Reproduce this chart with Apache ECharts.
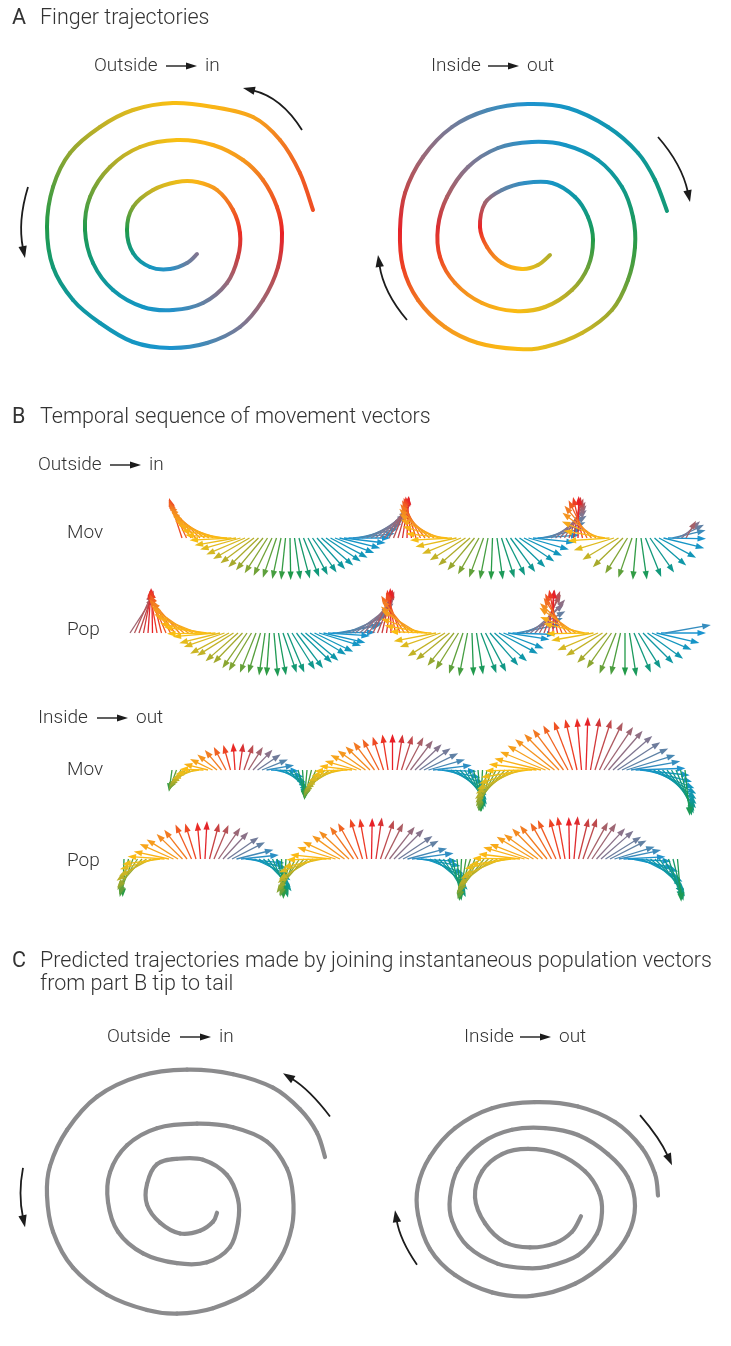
<!DOCTYPE html>
<html>
<head>
<meta charset="utf-8">
<script src="https://cdn.jsdelivr.net/npm/echarts/dist/echarts.min.js"></script>
<style>
  html, body { margin: 0; padding: 0; background: #ffffff; }
  #chart { width: 731px; height: 1346px; }
</style>
</head>
<body>
<div id="chart"></div>
<script>
// ---------------- data ----------------
// Finger paths (x, y in px-like units, y up, centred on each spiral)
const traceOutsideIn = [
  [143,18],[130,55],[110,88],[83,111],[43,121],[3,125],[-37,118],[-70,101],[-100,75],[-117,41],
  [-123,1],[-117,-39],[-97,-72],[-70,-95],[-37,-114],[0,-120],[37,-115],[70,-99],[93,-72],[108,-39],
  [112,-5],[107,21],[93,48],[73,68],[43,83],[7,88],[-30,81],[-60,61],[-80,31],[-85,-2],
  [-77,-35],[-57,-62],[-27,-79],[3,-82],[33,-75],[57,-55],[68,-29],[70,-5],[63,18],[47,38],
  [27,46],[7,46],[-17,38],[-37,21],[-43,-2],[-37,-25],[-20,-39],[0,-41],[17,-35],[27,-26]
];
const traceInsideOut = [
  [20,-27],[8,-37],[-8,-41],[-28,-35],[-43,-19],[-50,1],[-45,25],[-28,38],[-5,45],[22,45],
  [45,31],[58,11],[63,-12],[58,-39],[42,-62],[15,-79],[-15,-83],[-48,-75],[-75,-55],[-90,-29],
  [-92,1],[-83,31],[-62,61],[-32,80],[2,86],[35,83],[68,68],[92,41],[103,11],[105,-19],
  [98,-52],[82,-82],[52,-105],[15,-119],[-12,-121],[-52,-115],[-85,-99],[-112,-72],[-127,-39],[-130,-2],
  [-125,35],[-107,71],[-78,101],[-42,118],[-2,124],[38,120],[78,101],[108,75],[125,48],[137,17]
];
// Paths rebuilt from population vectors
const predictedOutsideIn = [
  [150,40],[142,67],[125,93],[98,117],[58,132],[12,137],[-35,130],[-78,107],[-108,70],[-125,30],
  [-128,-3],[-122,-43],[-102,-83],[-68,-113],[-28,-130],[2,-134],[38,-128],[78,-107],[105,-73],[117,-37],
  [118,-3],[112,27],[92,57],[58,73],[22,77],[-18,72],[-48,53],[-65,23],[-67,-10],[-57,-43],
  [-32,-67],[2,-78],[32,-77],[55,-60],[63,-33],[63,-7],[52,20],[28,37],[2,38],[-18,32],
  [-28,10],[-28,-13],[-15,-33],[5,-45],[25,-42],[38,-32],[42,-22]
];
const predictedInsideOut = [
  [46,-20],[37,-38],[20,-51],[-5,-56],[-30,-50],[-50,-28],[-60,2],[-53,32],[-33,52],[-7,58],
  [23,52],[50,32],[64,8],[67,-15],[62,-40],[43,-65],[13,-78],[-7,-80],[-37,-75],[-67,-55],
  [-83,-25],[-85,2],[-77,35],[-53,65],[-23,80],[10,82],[43,74],[73,52],[93,25],[100,-8],
  [93,-41],[73,-71],[40,-98],[-3,-112],[-43,-108],[-80,-88],[-105,-58],[-117,-18],[-117,15],[-105,49],
  [-80,82],[-43,105],[0,112],[43,107],[80,89],[107,59],[120,29],[123,4]
];
// Direction-of-rotation cues: [start, middle, end] in each spiral's units
const turnCuesOutsideIn = [ [[132,98],[107,125],[73,140]], [[-142,41],[-148,6],[-145,-30]] ];
const turnCuesInsideOut = [ [[128,91],[148,61],[160,26]], [[-123,-92],[-142,-62],[-152,-27]] ];
const turnCuesPredOutIn = [ [[155,85],[133,112],[108,133]], [[-152,28],[-154,-3],[-150,-38]] ];
const turnCuesPredInOut = [ [[105,97],[123,69],[137,39]], [[-118,-76],[-132,-46],[-140,-13]] ];

// Movement / population vectors, one per time sample: direction (deg, ccw from +x) and length
const outInMovAngle = [
  108,115,122,128,135,142,149,156,162,169,176,183,190,196,203,210,217,224,230,237,
  244,251,258,264,271,278,285,292,298,305,312,319,326,332,339,346,353,360,366,373,
  380,387,394,400,407,414,421,428,434,441,448,
  458,467,476,486,496,505,514,524,534,543,552,562,572,581,590,600,610,619,628,638,
  648,657,666,676,686,695,704,714,724,733,742,752,762,771,780,790,800,809,
  823,836,850,863,877,890,904,917,931,944,958,971,985,998,1012,1025,1039,1052,1066,1079,
  1093,1106,1122,1140
];
const outInMovLength = [
  42,42,42,42,42,42,42,42,42,42,42,42,42,42,42,42,42,42,42,42,
  42,42,42,42,42,42,42,42,42,42,42,42,42,42,42,42,42,42,42,42,
  42,42,42,42,42,42,42,42,42,42,42,
  42,42,42,42,42,42,42,42,42,42,42,42,42,42,42,42,42,42,42,42,
  42,42,42,42,42,42,42,42,42,42,42,42,42,42,42,42,42,42,
  42,42,42,42,42,42,42,42,42,42,42,42,42,42,42,42,42,42,42,38,
  34,30,25,20
];
const outInPopAngle = [
  57,66,71,79,86,91,100,104,113,118,127,131,140,145,154,158,167,172,181,185,
  194,199,208,212,221,226,235,239,248,253,262,266,275,280,289,293,302,307,316,320,
  329,334,343,347,356,361,370,374,383,388,397,401,410,415,424,428,437,442,451,
  461,469,482,489,501,508,521,530,538,551,559,572,579,591,598,611,619,632,639,651,
  658,671,679,692,699,711,718,731,740,749,761,768,781,789,802,809,
  821,833,843,856,865,878,887,901,910,923,932,945,955,968,977,990,999,1013,1022,1035,
  1044,1057,1067,1080,1090
];
const outInPopLength = [
  43,44,45,44,45,44,43,44,42,43,43,42,43,44,43,42,43,43,44,43,
  42,43,44,43,43,42,43,44,43,42,43,43,44,43,42,43,43,44,43,43,
  42,43,44,43,42,43,44,43,43,44,44,45,44,45,44,45,44,44,45,44,
  43,44,43,42,43,44,43,42,43,43,44,43,42,43,43,44,43,42,43,44,
  43,43,44,43,42,43,44,44,45,44,45,44,45,44,43,44,43,42,43,44,
  43,42,43,43,44,43,42,43,44,43,43,44,43,42,43,44,43,44,45,46
];
const inOutMovAngle = [
  262,250,238,226,214,202,190,178,166,154,142,130,118,106,94,82,70,58,46,34,
  22,10,-2,-14,-26,-38,-50,-62,-74,-86,
  -95,-104,-114,-123,-132,-141,-150,-160,-169,-178,-187,-196,-206,-215,-224,-233,-242,-252,-261,-270,
  -279,-288,-298,-307,-316,-325,-334,-344,-353,-362,-371,-380,-390,-399,-408,-417,-426,-436,-445,
  -453,-461,-468,-476,-484,-492,-500,-508,-515,-523,-531,-539,-547,-554,-562,-570,-578,-586,-593,-601,
  -609,-617,-625,-632,-640,-648,-656,-664,-671,-679,-687,-695,-703,-710,-718,-726,-734,-742,-749,-757,
  -765,-773,-781,-788,-796,-804
];
const inOutMovLength = [
  22,22,23,23,23,24,24,24,25,25,25,26,26,26,27,27,27,27,28,28,
  28,28,28,29,29,29,29,29,29,29,
  30,30,30,31,31,31,32,32,32,33,33,33,34,34,34,35,35,35,36,36,
  36,36,37,37,37,38,38,38,39,39,39,40,40,40,40,41,41,41,42,
  42,42,43,43,44,44,45,45,46,46,47,47,48,48,49,49,50,50,51,51,
  52,52,52,53,53,53,53,52,52,52,51,51,51,50,50,50,49,49,49,48,
  48,48,47,47,47,46
];
const inOutPopAngle = [
  268,257,249,237,229,216,208,196,188,176,168,156,148,136,128,115,107,95,87,75,
  67,55,47,35,27,14,6,-6,-14,-26,-34,-46,-54,-66,-74,-87,
  -94,-105,-113,-124,-131,-142,-149,-161,-168,-179,-186,-197,-205,-216,-223,-234,-241,-253,-260,-271,
  -278,-289,-297,-308,-315,-326,-333,-345,-352,-363,-370,-381,-389,-400,-407,-418,-425,-437,-444,
  -453,-459,-468,-473,-483,-488,-497,-503,-512,-517,-527,-532,-541,-547,-556,-561,-571,-576,-585,-591,
  -600,-605,-615,-620,-629,-635,-644,-649,-659,-664,-673,-679,-688,-693,-703,-708,-717,-723,-732,-737,
  -747,-752,-761,-767,-776,-781,-791,-796,-805
];
const inOutPopLength = [
  38,39,38,37,38,37,36,37,38,37,36,37,37,36,37,38,37,37,38,37,
  37,38,37,38,37,38,38,39,38,39,38,39,40,39,40,39,
  40,39,40,41,40,39,40,41,40,40,41,40,41,40,41,40,41,42,41,41,
  42,41,40,41,42,41,40,41,42,41,40,41,42,41,42,41,42,41,42,
  42,41,42,43,42,41,42,43,42,42,43,42,43,42,43,42,43,42,43,43,
  42,43,42,43,42,43,42,43,42,43,42,43,42,41,42,43,42,43,42,43,
  42,43,42,43,42,43,42,43,43
];

// ---------------- styling ----------------
const FONT = 'Roboto, "Liberation Sans", sans-serif';
const TEXT_COLOR = '#333333';
const PREDICTED_GREY = '#8b8b8d';
// colour wheel keyed by movement direction (degrees)
const DIR_STOPS = [
  [0,'#1a94d0'],[25,'#5e82a6'],[45,'#87738c'],[62,'#a95f66'],[78,'#cf3a3a'],[90,'#e91e26'],
  [112,'#ef5423'],[135,'#f38a20'],[158,'#f8a91a'],[180,'#fcbf12'],[203,'#d6b822'],[225,'#a5a92c'],
  [248,'#66a13a'],[270,'#219a48'],[292,'#12997a'],[315,'#0e97a3'],[338,'#1496c0'],[360,'#1a94d0']
];
function hexRgb(h) { return [parseInt(h.slice(1,3),16), parseInt(h.slice(3,5),16), parseInt(h.slice(5,7),16)]; }
function dirColor(deg) {
  const a = ((deg % 360) + 360) % 360;
  for (let k = 0; k < DIR_STOPS.length - 1; k++) {
    const [a0, c0] = DIR_STOPS[k], [a1, c1] = DIR_STOPS[k + 1];
    if (a >= a0 && a <= a1) {
      const t = (a - a0) / (a1 - a0), r0 = hexRgb(c0), r1 = hexRgb(c1);
      const c = r0.map((v, j) => Math.round(v + (r1[j] - v) * t));
      return 'rgb(' + c.join(',') + ')';
    }
  }
  return DIR_STOPS[0][1];
}

// ---------------- layout ----------------
const SPIRAL_R = 170;
const spiralCentres = {
  outIn: [170, 228], inOut: [530, 228], predOutIn: [175, 1210], predInOut: [535, 1222]
};
const SAMPLE_STEP = 4.5; // px per time sample
const rowLayout = [
  { angle: outInMovAngle, length: outInMovLength, x0: 182, base: 538 },
  { angle: outInPopAngle, length: outInPopLength, x0: 130, base: 633 },
  { angle: inOutMovAngle, length: inOutMovLength, x0: 172, base: 770 },
  { angle: inOutPopAngle, length: inOutPopLength, x0: 124, base: 859 }
];

const grids = [], xAxes = [], yAxes = [], series = [];
function addGrid(box, xr, yr) {
  grids.push({ left: box[0], top: box[1], width: box[2], height: box[3], show: false });
  const gi = grids.length - 1;
  xAxes.push({ type: 'value', gridIndex: gi, min: xr[0], max: xr[1], show: false });
  yAxes.push({ type: 'value', gridIndex: gi, min: yr[0], max: yr[1], show: false });
  return gi;
}
function spiralGrid(c) {
  return addGrid([c[0] - SPIRAL_R, c[1] - SPIRAL_R, 2 * SPIRAL_R, 2 * SPIRAL_R],
                 [-SPIRAL_R, SPIRAL_R], [-SPIRAL_R, SPIRAL_R]);
}

// path drawn as cubic pieces through the samples; colour either fixed or by heading
function renderTrace(points, width, fixedColor) {
  return function (params, api) {
    const n = points.length, i = params.dataIndex;
    if (i >= n - 1) return null;
    const P = k => api.coord(points[Math.max(0, Math.min(n - 1, k))]);
    const p0 = P(i - 1), p1 = P(i), p2 = P(i + 1), p3 = P(i + 2);
    const c1 = [p1[0] + (p2[0] - p0[0]) / 6, p1[1] + (p2[1] - p0[1]) / 6];
    const c2 = [p2[0] - (p3[0] - p1[0]) / 6, p2[1] - (p3[1] - p1[1]) / 6];
    let stroke = fixedColor;
    if (!fixedColor) {
      const a1 = Math.atan2(-(p2[1] - p0[1]), p2[0] - p0[0]) * 180 / Math.PI;
      const a2 = Math.atan2(-(p3[1] - p1[1]), p3[0] - p1[0]) * 180 / Math.PI;
      stroke = new echarts.graphic.LinearGradient(p1[0], p1[1], p2[0], p2[1],
        [{ offset: 0, color: dirColor(a1) }, { offset: 1, color: dirColor(a2) }], true);
    }
    return {
      type: 'bezierCurve',
      shape: { x1: p1[0], y1: p1[1], x2: p2[0], y2: p2[1], cpx1: c1[0], cpy1: c1[1], cpx2: c2[0], cpy2: c2[1] },
      style: { fill: 'none', lineWidth: width, lineCap: 'round', stroke }
    };
  };
}

// curved cue arrows showing the sense of rotation
function renderTurnCue(set) {
  return function (params, api) {
    const a = set[params.dataIndex];
    const p0 = api.coord(a[0]), m = api.coord(a[1]), p2 = api.coord(a[2]);
    const c = [2 * m[0] - (p0[0] + p2[0]) / 2, 2 * m[1] - (p0[1] + p2[1]) / 2];
    let ux = p2[0] - c[0], uy = p2[1] - c[1];
    const d = Math.hypot(ux, uy); ux /= d; uy /= d;
    const hl = 12, hw = 4.2;
    const b = [p2[0] - ux * hl, p2[1] - uy * hl];
    return {
      type: 'group',
      children: [
        { type: 'bezierCurve', shape: { x1: p0[0], y1: p0[1], x2: b[0] + ux * 2, y2: b[1] + uy * 2, cpx1: c[0], cpy1: c[1] },
          style: { stroke: '#1c1c1c', lineWidth: 1.8, fill: 'none' } },
        { type: 'polygon', shape: { points: [p2, [b[0] - uy * hw, b[1] + ux * hw], [b[0] + uy * hw, b[1] - ux * hw]] },
          style: { fill: '#1c1c1c' } }
      ]
    };
  };
}

// one vector per time sample: tail on the row baseline
function renderVector(params, api) {
  const i = api.value(0), ang = api.value(2), len = api.value(3);
  const tail = api.coord([i, 0]);
  const ppu = api.size([0, 1])[1];
  const r = ang * Math.PI / 180;
  const ux = Math.cos(r), uy = -Math.sin(r);
  const L = len * ppu;
  const tip = [tail[0] + ux * L, tail[1] + uy * L];
  const hl = 8.5, hw = 3.1;
  const base = [tip[0] - ux * hl, tip[1] - uy * hl];
  const color = dirColor(ang);
  return {
    type: 'group',
    children: [
      { type: 'line', shape: { x1: tail[0], y1: tail[1], x2: base[0] + ux * 1.5, y2: base[1] + uy * 1.5 },
        style: { stroke: color, lineWidth: 1.3 } },
      { type: 'polygon', shape: { points: [tip, [base[0] - uy * hw, base[1] + ux * hw], [base[0] + uy * hw, base[1] - ux * hw]] },
        style: { fill: color } }
    ]
  };
}

// Panel A: colour-coded finger paths
[[traceOutsideIn, spiralCentres.outIn, turnCuesOutsideIn], [traceInsideOut, spiralCentres.inOut, turnCuesInsideOut]]
  .forEach(([pts, c, cues]) => {
    const gi = spiralGrid(c);
    series.push({ type: 'custom', xAxisIndex: gi, yAxisIndex: gi, data: pts, renderItem: renderTrace(pts, 4), silent: true, clip: false });
    series.push({ type: 'custom', xAxisIndex: gi, yAxisIndex: gi, data: cues.map(q => q[1]), renderItem: renderTurnCue(cues), silent: true, clip: false });
  });

// Panel C: predicted paths
[[predictedOutsideIn, spiralCentres.predOutIn, turnCuesPredOutIn], [predictedInsideOut, spiralCentres.predInOut, turnCuesPredInOut]]
  .forEach(([pts, c, cues]) => {
    const gi = spiralGrid(c);
    series.push({ type: 'custom', xAxisIndex: gi, yAxisIndex: gi, data: pts, renderItem: renderTrace(pts, 4.2, PREDICTED_GREY), silent: true, clip: false });
    series.push({ type: 'custom', xAxisIndex: gi, yAxisIndex: gi, data: cues.map(q => q[1]), renderItem: renderTurnCue(cues), silent: true, clip: false });
  });

// Panel B: vector sequences
rowLayout.forEach(row => {
  const n = row.angle.length;
  const gi = addGrid([row.x0, row.base - 60, (n - 1) * SAMPLE_STEP, 120], [0, n - 1], [-60, 60]);
  const data = row.angle.map((a, i) => [i, 0, a, row.length[i]]);
  series.push({ type: 'custom', xAxisIndex: gi, yAxisIndex: gi, data, renderItem: renderVector, silent: true, clip: false,
    encode: { x: 0, y: 1 } });
});

// ---------------- text ----------------
function txt(x, y, text, size, weight) {
  return { type: 'text', x, y, silent: true,
    style: { text, fontFamily: FONT, fontSize: size, fontWeight: weight || 300, fill: TEXT_COLOR,
             align: 'left', verticalAlign: 'middle', textAlign: 'left', textVerticalAlign: 'middle' } };
}
function flowArrow(x1, x2, y) {
  return { type: 'group', silent: true, children: [
    { type: 'line', shape: { x1, y1: y, x2: x2 - 8, y2: y }, style: { stroke: '#1c1c1c', lineWidth: 1.4 } },
    { type: 'polygon', shape: { points: [[x2 - 11, y - 3.4], [x2, y], [x2 - 11, y + 3.4]] }, style: { fill: '#1c1c1c' } }
  ] };
}
// "from ⟶ to" caption
function flowLabel(x, y, from, to, gap) {
  return [txt(x, y, from, 19), flowArrow(x + gap, x + gap + 31, y), txt(x + gap + 39, y, to, 19)];
}
const TITLE = 21.5;
const graphic = [].concat(
  [txt(12, 19, 'A', TITLE, 400), txt(40, 19, 'Finger trajectories', TITLE)],
  flowLabel(94, 66, 'Outside', 'in', 72),
  flowLabel(431, 66, 'Inside', 'out', 57),
  [txt(12, 418, 'B', TITLE, 400), txt(40, 418, 'Temporal sequence of movement vectors', TITLE)],
  flowLabel(38, 465, 'Outside', 'in', 72),
  [txt(67, 533, 'Mov', 19), txt(67, 630, 'Pop', 19)],
  flowLabel(38, 718, 'Inside', 'out', 59),
  [txt(67, 770, 'Mov', 19), txt(67, 861, 'Pop', 19)],
  [txt(12, 962, 'C', TITLE, 400), txt(40, 962, 'Predicted trajectories made by joining instantaneous population vectors', TITLE),
   txt(40, 985, 'from part B tip to tail', TITLE)],
  flowLabel(107, 1037, 'Outside', 'in', 73),
  flowLabel(464, 1037, 'Inside', 'out', 56)
);

const chart = echarts.init(document.getElementById('chart'), null, { renderer: 'canvas' });
chart.setOption({
  animation: false,
  backgroundColor: '#ffffff',
  grid: grids, xAxis: xAxes, yAxis: yAxes,
  series,
  graphic
});
</script>
</body>
</html>
